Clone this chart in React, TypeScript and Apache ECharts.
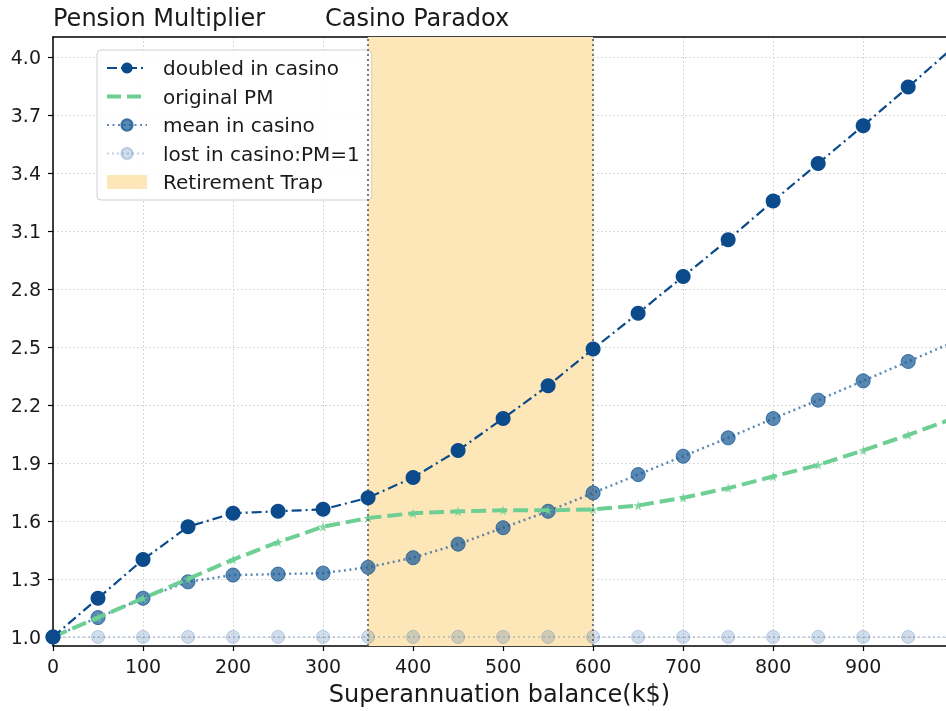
import React, { useEffect, useRef } from "react";
import * as echarts from "echarts";

const xValues = [0, 50, 100, 150, 200, 250, 300, 350, 400, 450, 500, 550, 600, 650, 700, 750, 800, 850, 900, 950, 1000];
const doubledInCasino = [1.0, 1.2, 1.4, 1.57, 1.64, 1.65, 1.66, 1.72, 1.825, 1.965, 2.13, 2.30, 2.49, 2.675, 2.865, 3.055, 3.255, 3.45, 3.645, 3.845, 4.05];
const originalPM = [1.0, 1.1, 1.2, 1.3, 1.4, 1.49, 1.57, 1.615, 1.64, 1.65, 1.655, 1.655, 1.66, 1.68, 1.72, 1.77, 1.83, 1.89, 1.965, 2.045, 2.13];
const meanInCasino = [1.0, 1.1, 1.2, 1.285, 1.32, 1.325, 1.33, 1.36, 1.41, 1.48, 1.565, 1.65, 1.745, 1.84, 1.935, 2.03, 2.13, 2.225, 2.325, 2.425, 2.525];
const lostInCasino = [1.0, 1.0, 1.0, 1.0, 1.0, 1.0, 1.0, 1.0, 1.0, 1.0, 1.0, 1.0, 1.0, 1.0, 1.0, 1.0, 1.0, 1.0, 1.0, 1.0, 1.0];
const trapRange = [350, 600];
const yTicks = [1.0, 1.3, 1.6, 1.9, 2.2, 2.5, 2.8, 3.1, 3.4, 3.7, 4.0];
const xTicks = [0, 100, 200, 300, 400, 500, 600, 700, 800, 900];

const pairs = (ys: number[]) => xValues.map((x, i) => [x, ys[i]]);

export default function App() {
  const ref = useRef<HTMLDivElement>(null);
  useEffect(() => {
    if (!ref.current) return;
    const chart = echarts.init(ref.current, null, { renderer: "svg" });
    const font = "DejaVu Sans";
    const textColor = "#1a1a1a";
    chart.setOption({
      animation: false,
      textStyle: { fontFamily: font },
      title: [
        { text: "Pension Multiplier", left: 48, top: 1, textStyle: { fontFamily: font, fontSize: 24, fontWeight: "normal", color: textColor } },
        { text: "Casino Paradox", left: 320, top: 1, textStyle: { fontFamily: font, fontSize: 24, fontWeight: "normal", color: textColor } },
      ],
      grid: { left: 53, top: 37, right: 0, bottom: 711 - 648, containLabel: false },
      legend: {
        orient: "vertical",
        left: 97,
        top: 50,
        itemWidth: 40,
        itemHeight: 14,
        itemGap: 8.5,
        padding: [8, 12, 8, 8],
        backgroundColor: "rgba(255,255,255,0.85)",
        borderColor: "#d0d0d0",
        borderWidth: 1,
        borderRadius: 4,
        textStyle: { fontFamily: font, fontSize: 20, color: textColor, padding: [0, 0, 0, 11] },
        data: [
          "doubled in casino",
          { name: "original PM", itemStyle: { opacity: 0 }, lineStyle: { type: [14, 6], width: 4, color: "#6dcf94" } },
          "mean in casino",
          "lost in casino:PM=1",
          { name: "Retirement Trap", icon: "rect" },
        ],
      },
      xAxis: [
        {
          type: "value",
          min: 0,
          max: 992,
          axisLine: { lineStyle: { color: "#000", width: 1.5 } },
          axisTick: { length: 5, lineStyle: { color: "#000", width: 1.2 }, customValues: xTicks },
          axisLabel: { fontFamily: font, fontSize: 19, color: textColor, margin: 10, customValues: xTicks },
          splitLine: { show: true, lineStyle: { color: "#cccccc", type: [1.5, 2.5], width: 1 } },
          name: "Superannuation balance(k$)",
          nameLocation: "middle",
          nameGap: 36,
          nameTextStyle: { fontFamily: font, fontSize: 24, color: textColor },
        },
        {
          type: "value",
          position: "top",
          min: 0,
          max: 992,
          axisLine: { show: true, lineStyle: { color: "#000", width: 1.5 } },
          axisTick: { show: false },
          axisLabel: { show: false },
          splitLine: { show: false },
        },
      ],
      yAxis: {
        type: "value",
        min: 0.953,
        max: 4.104,
        axisLine: { show: true, lineStyle: { color: "#000", width: 1.5 } },
        axisTick: { show: true, length: 5, lineStyle: { color: "#000", width: 1.2 }, customValues: yTicks },
        axisLabel: { fontFamily: font, fontSize: 19, color: textColor, margin: 12, customValues: yTicks, formatter: (v: number) => v.toFixed(1) },
        splitLine: { show: true, lineStyle: { color: "#cccccc", type: [1.5, 2.5], width: 1 } },
      },
      series: [
        {
          name: "Retirement Trap",
          type: "line",
          data: [],
          itemStyle: { color: "#fde6b8" },
          lineStyle: { color: "#fde6b8" },
          z: 0,
          markArea: {
            silent: true,
            itemStyle: { color: "#fde6b8", opacity: 1 },
            data: [[{ xAxis: trapRange[0] }, { xAxis: trapRange[1] }]],
          },
          markLine: {
            silent: true,
            symbol: "none",
            label: { show: false },
            lineStyle: { color: "#6b6b6b", type: [2, 3], width: 1.8 },
            data: [{ xAxis: trapRange[0] }, { xAxis: trapRange[1] }],
          },
        },
        {
          name: "lost in casino:PM=1",
          type: "line",
          data: pairs(lostInCasino),
          symbol: "circle",
          symbolSize: 13,
          itemStyle: { color: "rgba(70,120,175,0.25)", borderColor: "rgba(70,120,175,0.3)", borderWidth: 1 },
          lineStyle: { color: "rgba(70,120,175,0.35)", width: 1.6, type: [2, 3] },
          z: 2,
        },
        {
          name: "mean in casino",
          type: "line",
          data: pairs(meanInCasino),
          symbol: "circle",
          symbolSize: 14,
          itemStyle: { color: "rgba(25,90,150,0.72)", borderColor: "rgba(25,90,150,0.8)", borderWidth: 1 },
          lineStyle: { color: "rgba(40,100,160,0.75)", width: 2.5, type: [2, 3.5] },
          z: 3,
        },
        {
          name: "original PM",
          type: "line",
          data: pairs(originalPM),
          symbol: "none",
          itemStyle: { color: "#6dcf94" },
          lineStyle: { color: "#6dcf94", width: 4, type: [15, 6] },
          z: 4,
        },
        {
          name: "originalStars",
          type: "scatter",
          data: pairs(originalPM),
          symbol: "path://M50,0 L61,35 L98,35 L68,57 L79,91 L50,70 L21,91 L32,57 L2,35 L39,35 Z",
          symbolSize: 10,
          itemStyle: { color: "#6dcf94" },
          z: 4,
        },
        {
          name: "doubled in casino",
          type: "line",
          data: pairs(doubledInCasino),
          symbol: "circle",
          symbolSize: 15,
          itemStyle: { color: "#0b4a8b" },
          lineStyle: { color: "#0b4a8b", width: 2.2, type: [10, 4, 2, 4] },
          z: 5,
        },
      ],
    });
    return () => chart.dispose();
  }, []);
  return <div ref={ref} style={{ position: "fixed", left: 0, top: 0, width: 946, height: 711 }} />;
}
